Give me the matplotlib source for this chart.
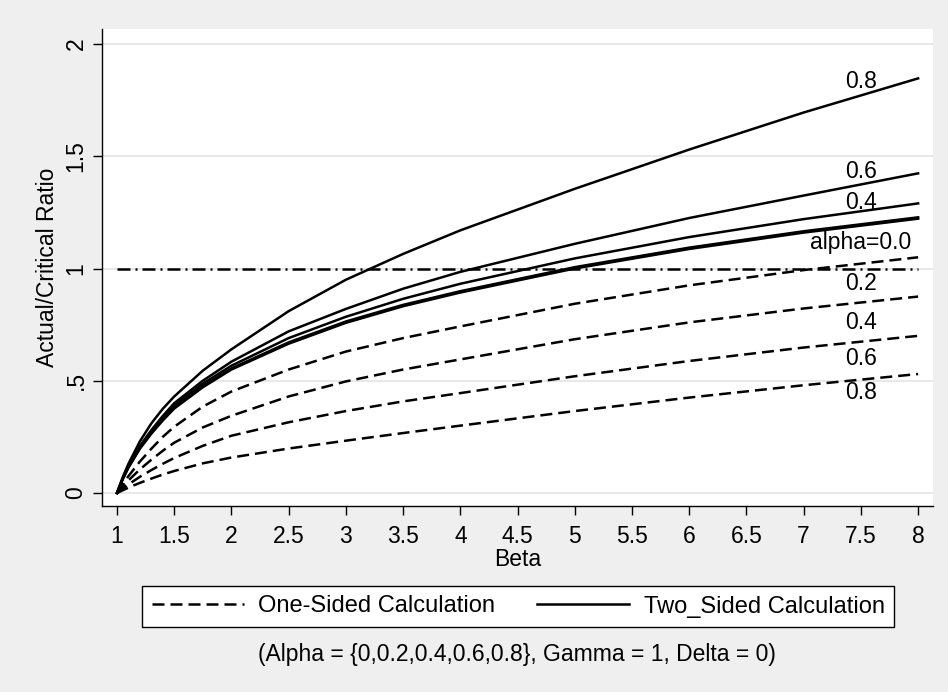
import matplotlib
matplotlib.use('Agg')
import matplotlib.pyplot as plt
from matplotlib.lines import Line2D

plt.rcParams['font.family'] = ['Liberation Sans', 'DejaVu Sans']

# Beta values
beta = [1, 1.05, 1.1, 1.2, 1.3, 1.4, 1.5, 1.75, 2, 2.5, 3, 3.5, 4, 5, 6, 7, 8]

# Two-sided calculation (solid), alpha = 0.8, 0.6, 0.4, 0.2, 0.0
two_08 = [0, 0.07, 0.13, 0.23, 0.31, 0.375, 0.43, 0.545, 0.64, 0.81, 0.95, 1.065, 1.17, 1.355, 1.53, 1.695, 1.847]
two_06 = [0, 0.065, 0.12, 0.21, 0.28, 0.343, 0.40, 0.50, 0.585, 0.72, 0.82, 0.91, 0.985, 1.11, 1.225, 1.325, 1.424]
two_04 = [0, 0.063, 0.117, 0.205, 0.273, 0.335, 0.39, 0.487, 0.567, 0.69, 0.785, 0.865, 0.932, 1.045, 1.14, 1.22, 1.29]
two_02 = [0, 0.062, 0.115, 0.20, 0.268, 0.328, 0.382, 0.476, 0.555, 0.671, 0.764, 0.838, 0.899, 1.006, 1.093, 1.166, 1.228]
two_00 = [0, 0.061, 0.113, 0.197, 0.264, 0.323, 0.376, 0.471, 0.55, 0.665, 0.758, 0.832, 0.893, 1.0, 1.087, 1.16, 1.222]

# One-sided calculation (dashed), alpha = 0.2, 0.4, 0.6, 0.8
one_02 = [0, 0.04, 0.075, 0.14, 0.197, 0.25, 0.295, 0.385, 0.452, 0.55, 0.63, 0.69, 0.742, 0.843, 0.925, 0.993, 1.05]
one_04 = [0, 0.03, 0.056, 0.105, 0.148, 0.188, 0.224, 0.292, 0.344, 0.43, 0.497, 0.55, 0.595, 0.685, 0.76, 0.822, 0.875]
one_06 = [0, 0.02, 0.038, 0.072, 0.102, 0.13, 0.156, 0.21, 0.255, 0.315, 0.365, 0.408, 0.445, 0.52, 0.588, 0.648, 0.70]
one_08 = [0, 0.012, 0.024, 0.045, 0.064, 0.082, 0.098, 0.132, 0.158, 0.198, 0.233, 0.267, 0.30, 0.365, 0.425, 0.48, 0.53]

# reference line at ratio = 1
ref_x = [1, 8]
ref_y = [1, 1]

# curve labels (text, y) placed at beta = 7.5
label_x = 7.5
label_text = ['0.8', '0.6', '0.4', 'alpha=0.0', '0.2', '0.4', '0.6', '0.8']
label_y = [1.835, 1.43, 1.293, 1.117, 0.932, 0.760, 0.597, 0.448]

xticks = [1, 1.5, 2, 2.5, 3, 3.5, 4, 4.5, 5, 5.5, 6, 6.5, 7, 7.5, 8]
xticklabels = ['1', '1.5', '2', '2.5', '3', '3.5', '4', '4.5', '5', '5.5', '6', '6.5', '7', '7.5', '8']
yticks = [0, 0.5, 1, 1.5, 2]
yticklabels = ['0', '.5', '1', '1.5', '2']

bg = '#efefef'
fs = 16.5
lw = 1.8
dash = (4.8, 2.4)

fig = plt.figure(figsize=(9.48, 6.92), dpi=100, facecolor=bg)
ax = fig.add_axes([102 / 948, 1 - 506 / 692, 831 / 948, 477 / 692])
ax.set_facecolor('white')

for yv in yticks:
    ax.axhline(yv, color='#e6e6e6', lw=1.3, zorder=0)

for ys in [two_08, two_06, two_04, two_02, two_00]:
    ax.plot(beta, ys, color='black', lw=lw, solid_joinstyle='round')
for ys in [one_02, one_04, one_06, one_08]:
    ax.plot(beta, ys, color='black', lw=lw, dashes=dash, dash_capstyle='butt')
ax.plot(ref_x, ref_y, color='black', lw=lw, dashes=(5.2, 2.0, 0.8, 2.0))

for t, yv in zip(label_text, label_y):
    ax.text(label_x, yv, t, ha='center', va='center', fontsize=fs)

ax.set_xlim(0.869, 8.13)
ax.set_ylim(-0.058, 2.067)
ax.set_xticks(xticks)
ax.set_xticklabels(xticklabels)
ax.set_yticks(yticks)
ax.set_yticklabels(yticklabels, rotation=90, va='center')
ax.tick_params(axis='both', direction='out', length=6.5, width=1, labelsize=fs, colors='black')
ax.tick_params(axis='x', pad=7)
ax.tick_params(axis='y', pad=4)

for s in ['top', 'right']:
    ax.spines[s].set_visible(False)
for s in ['left', 'bottom']:
    ax.spines[s].set_color('black')
    ax.spines[s].set_linewidth(1)

fig.text(517.5 / 948, 1 - 560 / 692, 'Beta', ha='center', va='center', fontsize=fs)
fig.text(48 / 948, 1 - 267 / 692, 'Actual/Critical Ratio', ha='center', va='center',
         rotation=90, fontsize=fs)
fig.text(517 / 948, 1 - 654 / 692, '(Alpha = {0,0.2,0.4,0.6,0.8}, Gamma = 1, Delta = 0)',
         ha='center', va='center', fontsize=fs)

handles = [Line2D([], [], color='black', lw=lw, dashes=dash),
           Line2D([], [], color='black', lw=lw)]
leg = fig.legend(handles, ['One-Sided Calculation', 'Two_Sided Calculation'],
                 ncol=2, loc='center', bbox_to_anchor=(518 / 948, 1 - 606.5 / 692),
                 frameon=True, fancybox=False, edgecolor='black', facecolor='white',
                 framealpha=1, fontsize=17, handlelength=3.9, handletextpad=0.6,
                 columnspacing=1.8, borderpad=0.4, borderaxespad=0)
leg.get_frame().set_linewidth(1)

fig.savefig('out.png', dpi=100, facecolor=bg)
